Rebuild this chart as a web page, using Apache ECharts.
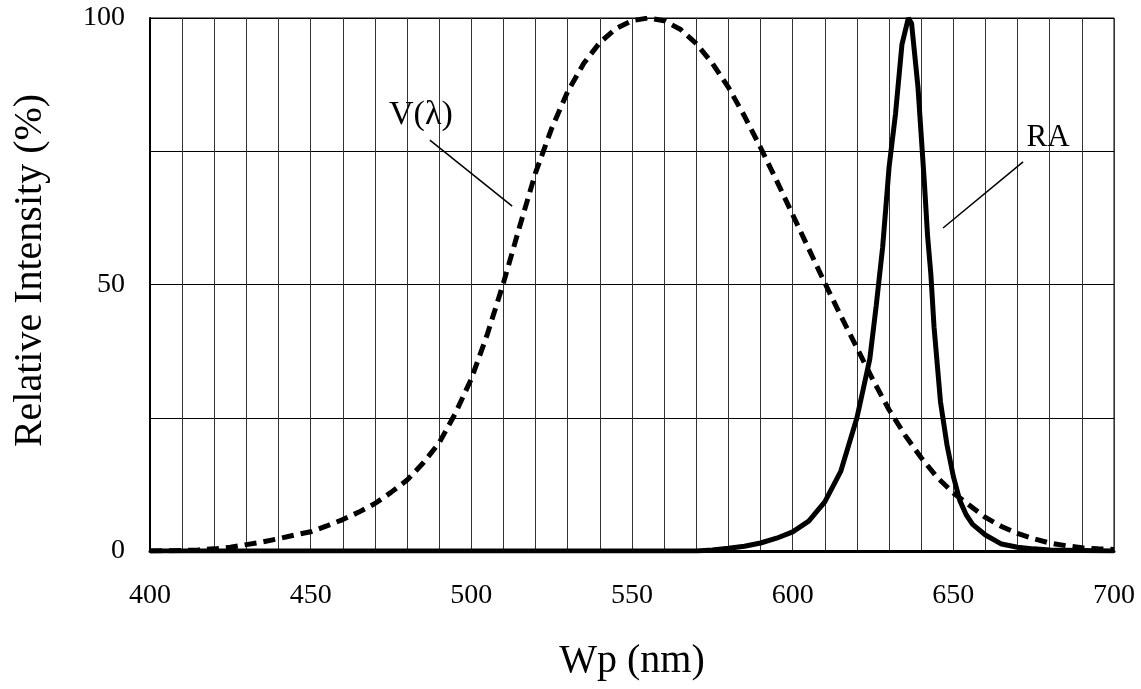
<!DOCTYPE html>
<html>
<head>
<meta charset="utf-8">
<script src="https://cdn.jsdelivr.net/npm/echarts@6/dist/echarts.min.js"></script>
<style>
html,body{margin:0;padding:0;background:#fff;}
#c{width:1141px;height:689px;}
</style>
</head>
<body>
<div id="c"></div>
<script>
// Wavelengths (nm) and relative intensities (%)
const vWave = [400,410,415,420,425,430,435,440,445,450,455,460,465,470,475,480,485,490,495,500,505,510,515,520,525,530,535,540,545,550,555,560,565,570,575,580,585,590,595,600,605,610,615,620,625,630,635,640,645,650,655,660,665,670,675,680,685,690,695,700];
const vValue = [0,0.1,0.2,0.4,0.7,1.2,1.7,2.3,3.0,3.6,4.7,5.9,7.3,8.9,11.0,13.3,16.5,20.3,25.8,32.3,40.7,50.3,60.8,71.0,79.3,86.2,91.5,95.4,98.0,99.5,100,99.5,97.9,95.2,91.5,87.0,81.6,75.7,69.5,63.1,56.7,50.3,44.1,38.1,32.1,26.5,21.7,17.5,13.8,10.9,8.6,6.3,4.6,3.3,2.3,1.5,1.0,0.6,0.4,0.3];

const raWave = [400,450,500,550,570,575,580,585,590,595,600,605,610,615,620,622,624,626,628,630,632,634,636,637,638,639,640,641,642,643,644,646,648,650,652,654,656,660,665,670,675,680,690,700];
const raValue = [0,0,0,0,0,0.2,0.5,0.9,1.5,2.4,3.6,5.6,9.2,15,25,30.5,36,46,57,72,82,95,100,99,93,87,78,69,59,52,42,28,20,14,9.5,6.8,5,3,1.3,0.7,0.4,0.2,0.1,0];

const xTicks = [400,450,500,550,600,650,700];
const yTicks = [0,50,100];

// Annotation anchors in data units
const vLabel = {text:'V(λ)', size:34, pos:[484.3, 81.8], leader:[[487.1,77.1],[512.7,64.7]]};
const raLabel = {text:'RA', size:31, pos:[679.5, 77.5], leader:[[671.7,73.0],[646.8,60.6]]};

const FONT = '"Liberation Serif","Times New Roman",serif';
const chart = echarts.init(document.getElementById('c'));

function annot(a){
  return {
    markLine:{
      silent:true, symbol:['none','none'],
      lineStyle:{color:'#000',width:1.5,type:'solid'},
      label:{show:false},
      data:[[{coord:a.leader[0]},{coord:a.leader[1]}]]
    },
    markPoint:{
      silent:true, symbol:'circle', symbolSize:0,
      label:{show:true, formatter:a.text, color:'#000', fontFamily:FONT, fontSize:a.size, position:'inside'},
      data:[{coord:a.pos}]
    }
  };
}

chart.setOption({
  animation:false,
  backgroundColor:'#fff',
  grid:{left:150, right:27, top:18, bottom:138, show:true, borderColor:'#000', borderWidth:1},
  xAxis:{
    type:'value', min:400, max:700, interval:10,
    name:'Wp (nm)', nameLocation:'middle', nameGap:90,
    nameTextStyle:{fontFamily:FONT, fontSize:40, color:'#000'},
    axisLine:{show:true, onZero:false, lineStyle:{color:'#000', width:3}},
    axisTick:{show:false},
    axisLabel:{fontFamily:FONT, fontSize:28, color:'#000', margin:31,
      formatter:v => xTicks.indexOf(v) >= 0 ? String(v) : ''},
    splitLine:{show:true, lineStyle:{color:'#333', width:1}}
  },
  yAxis:{
    type:'value', min:0, max:100, interval:25,
    name:'Relative Intensity (%)', nameLocation:'middle', nameGap:100,
    nameTextStyle:{fontFamily:FONT, fontSize:40, color:'#000', padding:[0,0,0,28]},
    axisLine:{show:true, lineStyle:{color:'#000', width:2}},
    axisTick:{show:false},
    axisLabel:{fontFamily:FONT, fontSize:28, color:'#000', margin:25,
      formatter:v => yTicks.indexOf(v) >= 0 ? String(v) : ''},
    splitLine:{show:true, lineStyle:{color:'#000', width:1}}
  },
  series:[
    Object.assign({
      name:'V(λ)', type:'line', showSymbol:false, smooth:false,
      data:vWave.map((w,i)=>[w,vValue[i]]),
      lineStyle:{color:'#000', width:5, type:[12,7]},
      z:3
    }, annot(vLabel)),
    Object.assign({
      name:'RA', type:'line', showSymbol:false, smooth:false,
      data:raWave.map((w,i)=>[w,raValue[i]]),
      lineStyle:{color:'#000', width:5, type:'solid'},
      z:4
    }, annot(raLabel))
  ]
});
</script>
</body>
</html>
